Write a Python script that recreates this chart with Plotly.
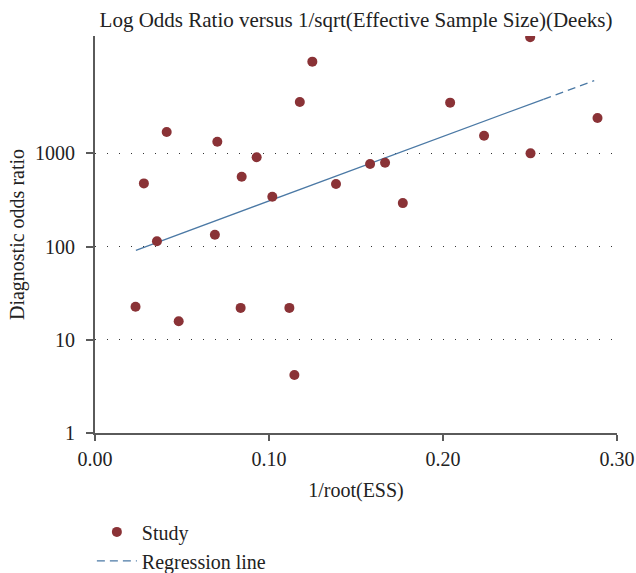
import plotly.graph_objects as go

# Study points: x = 1/root(ESS), y = diagnostic odds ratio
study_x = [0.0281, 0.0412, 0.0703, 0.0929, 0.0843, 0.1019, 0.1249, 0.1177,
           0.2041, 0.1581, 0.1667, 0.1385, 0.1769, 0.2501, 0.2888, 0.2236,
           0.2503, 0.0356, 0.0689, 0.0233, 0.0481, 0.0837, 0.1117, 0.1146]
study_y = [477, 1698, 1336, 908, 562, 343, 9660, 3565,
           3507, 769, 794, 469, 293, 17660, 2400, 1549,
           1002, 114, 134, 22.6, 15.8, 22.0, 22.0, 4.2]

# Regression line (solid over data range, dashed extension)
reg_solid_x = [0.0235, 0.2577]
reg_solid_y = [91.2, 3811]
reg_dash_x = [0.2577, 0.2869]
reg_dash_y = [3811, 6040]

x_ticks = [0.0, 0.1, 0.2, 0.3]
x_tick_labels = ["0.00", "0.10", "0.20", "0.30"]
y_ticks = [1, 10, 100, 1000]
y_tick_labels = ["1", "10", "100", "1000"]

FONT = "Liberation Serif"
RED = "#8a3236"
BLUE = "#4b79a5"
AXIS = "#5a5a5a"
TXT = "#222222"

fig = go.Figure()
fig.add_trace(go.Scatter(
    x=reg_solid_x, y=reg_solid_y, mode="lines",
    line=dict(color=BLUE, width=1.3), showlegend=False, hoverinfo="skip"))
fig.add_trace(go.Scatter(
    x=study_x, y=study_y, mode="markers", name="Study",
    marker=dict(color=RED, size=10, line=dict(width=0))))
fig.add_trace(go.Scatter(
    x=reg_dash_x, y=reg_dash_y, mode="lines", name="Regression line",
    line=dict(color=BLUE, width=1.3, dash="8px,5px")))

fig.update_layout(
    width=636, height=573,
    margin=dict(l=95, r=19, t=36, b=140, autoexpand=False),
    plot_bgcolor="white", paper_bgcolor="white",
    font=dict(family=FONT, size=20, color=TXT),
    title=dict(text="Log Odds Ratio versus 1/sqrt(Effective Sample Size)(Deeks)",
               x=0.5, xref="paper", xanchor="center",
               y=1 - 20 / 573, yref="container", yanchor="middle",
               font=dict(family=FONT, size=21, color=TXT)),
    xaxis=dict(range=[0, 0.30], tickvals=x_ticks, ticktext=x_tick_labels,
               showgrid=False, zeroline=False, showline=True,
               linecolor=AXIS, linewidth=2, ticks="outside", ticklen=6,
               tickcolor=AXIS, tickwidth=1.5, ticklabelstandoff=1,
               tickfont=dict(size=20),
               title=dict(text="1/root(ESS)", standoff=14,
                          font=dict(size=20))),
    yaxis=dict(type="log", range=[0, 4.26], tickvals=y_ticks,
               ticktext=y_tick_labels,
               showgrid=True, gridcolor="#333", gridwidth=1,
               griddash="1px,11px",
               zeroline=False, showline=True,
               linecolor=AXIS, linewidth=2, ticks="outside", ticklen=7,
               tickcolor=AXIS, tickwidth=1.5, ticklabelstandoff=7,
               tickfont=dict(size=20),
               title=dict(text="Diagnostic odds ratio", standoff=5,
                          font=dict(size=20))),
    legend=dict(x=-0.006, y=-0.20, xanchor="left", yanchor="top",
                orientation="v", bgcolor="rgba(0,0,0,0)", itemwidth=40,
                font=dict(family=FONT, size=20, color=TXT)),
)

fig.write_html("out.html")
